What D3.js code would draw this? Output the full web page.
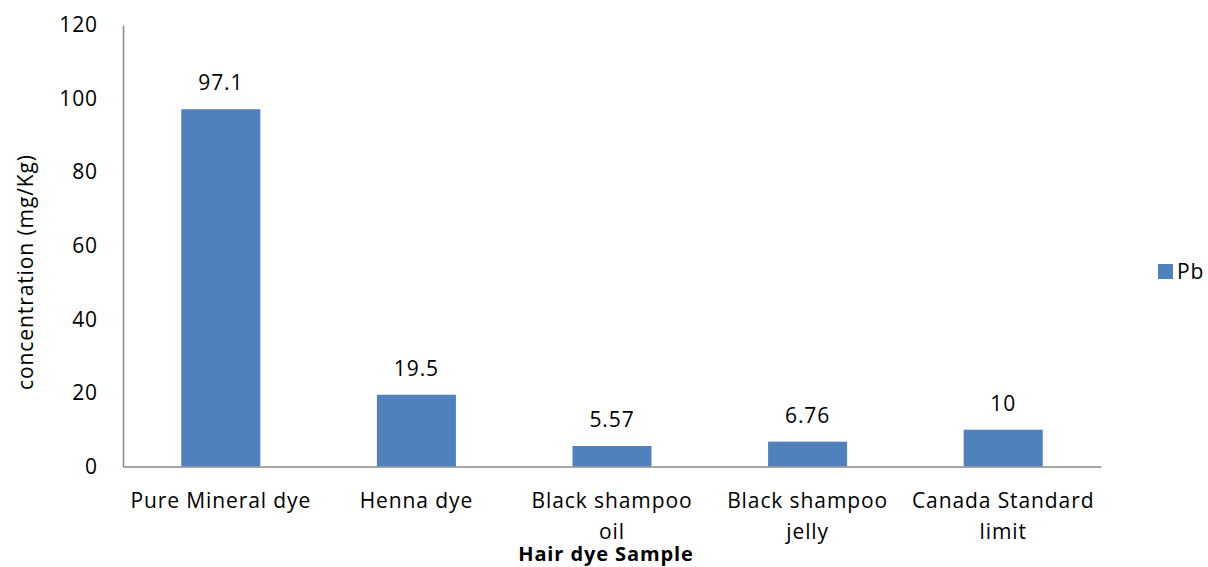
<!DOCTYPE html>
<html>
<head>
<meta charset="utf-8">
<script src="https://cdn.jsdelivr.net/npm/d3@7"></script>
<style>
  html, body { margin: 0; padding: 0; background: #fff; }
  svg text { font-family: "Open Sans", Lato, sans-serif; fill: #000; letter-spacing: 0.9px; }
</style>
</head>
<body>
<svg id="chart" width="1208" height="567"></svg>
<script>
// Pb concentration in hair dye samples (mg/Kg)
const categories = [
  ["Pure Mineral dye"],
  ["Henna dye"],
  ["Black shampoo", "oil"],
  ["Black shampoo", "jelly"],
  ["Canada Standard", "limit"]
];
const pbValues = [97.1, 19.5, 5.57, 6.76, 10];
const valueLabels = ["97.1", "19.5", "5.57", "6.76", "10"];
const yTicks = [0, 20, 40, 60, 80, 100, 120];
const seriesName = "Pb";

const svg = d3.select("#chart");
const margin = { left: 123, right: 107, top: 25 };
const W = 1208;
const plotW = W - margin.left - margin.right;
const baseY = 466.5;
const fontPx = 21;

const x = d3.scaleBand()
  .domain(d3.range(categories.length))
  .range([margin.left, margin.left + plotW])
  .paddingInner(0.596)
  .paddingOuter(0.298);

const y = d3.scaleLinear().domain([0, 120]).range([baseY, margin.top]);

const barColor = "#4F81BD";
const axisColor = "#898989";

// bars
svg.selectAll("rect.bar")
  .data(pbValues)
  .enter().append("rect")
  .attr("class", "bar")
  .attr("x", (d, i) => x(i))
  .attr("width", x.bandwidth())
  .attr("y", d => y(d))
  .attr("height", d => y(0) - y(d))
  .attr("fill", barColor);

// value labels above each bar
svg.selectAll("text.val")
  .data(pbValues)
  .enter().append("text")
  .attr("class", "val")
  .attr("x", (d, i) => x(i) + x.bandwidth() / 2)
  .attr("y", d => y(d) - 19)
  .attr("text-anchor", "middle")
  .attr("font-size", fontPx)
  .text((d, i) => valueLabels[i]);

// y axis (no tick marks)
const yAxis = d3.axisLeft(y).tickValues(yTicks).tickSize(0).tickPadding(25);
const gy = svg.append("g").attr("transform", `translate(${margin.left},0)`).call(yAxis);
gy.select(".domain").attr("stroke", axisColor).attr("stroke-width", 1.5);
gy.selectAll("text")
  .attr("font-size", fontPx)
  .attr("font-family", "'Open Sans', sans-serif")
  .attr("fill", "#000");

// x axis line
const xAxis = d3.axisBottom(x).tickSize(0).tickFormat("");
const gx = svg.append("g").attr("transform", `translate(0,${y(0)})`).call(xAxis);
gx.select(".domain").attr("stroke", axisColor).attr("stroke-width", 1.5);

// category labels, wrapped onto two lines where needed
const catG = svg.append("g");
categories.forEach((lines, i) => {
  const cx = x(i) + x.bandwidth() / 2;
  const t = catG.append("text")
    .attr("x", cx)
    .attr("y", 508)
    .attr("text-anchor", "middle")
    .attr("font-size", fontPx);
  lines.forEach((ln, j) => {
    t.append("tspan")
      .attr("x", cx)
      .attr("dy", j === 0 ? 0 : 31)
      .text(ln);
  });
});

// axis titles
svg.append("text")
  .attr("x", 606)
  .attr("y", 561)
  .attr("text-anchor", "middle")
  .attr("font-size", 20)
  .attr("font-weight", "bold")
  .text("Hair dye Sample");

svg.append("text")
  .attr("transform", "translate(33,272) rotate(-90)")
  .attr("text-anchor", "middle")
  .attr("font-size", fontPx)
  .text("concentration (mg/Kg)");

// legend
const lg = svg.append("g").attr("transform", "translate(1158,264)");
lg.append("rect").attr("width", 15).attr("height", 15).attr("fill", barColor);
lg.append("text").attr("x", 19).attr("y", 15).attr("font-size", fontPx).text(seriesName);
</script>
</body>
</html>
